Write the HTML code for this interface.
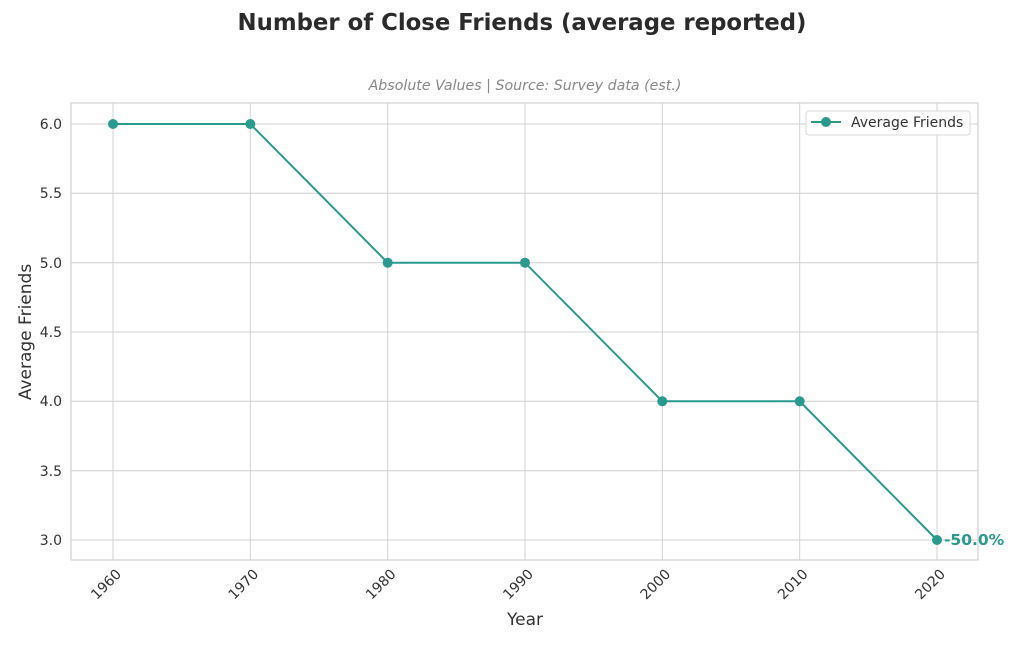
<!DOCTYPE html>
<html><head><meta charset="utf-8"><style>html,body{margin:0;padding:0;background:#fff}svg{display:block}</style></head>
<body>
<svg width="1024" height="666" xmlns="http://www.w3.org/2000/svg" font-family="DejaVu Sans, Liberation Sans, sans-serif">
<rect width="1024" height="666" fill="#fff"/>
<text x="522" y="30" text-anchor="middle" font-size="22.8" font-weight="bold" fill="#2b2b2b">Number of Close Friends (average reported)</text>
<text x="525" y="90" text-anchor="middle" font-size="14.2" font-style="italic" fill="#888">Absolute Values | Source: Survey data (est.)</text>
<g stroke="#d0d0d0" stroke-width="1">
<line x1="113" y1="103" x2="113" y2="560"/><line x1="250.3" y1="103" x2="250.3" y2="560"/><line x1="387.7" y1="103" x2="387.7" y2="560"/><line x1="525" y1="103" x2="525" y2="560"/><line x1="662.3" y1="103" x2="662.3" y2="560"/><line x1="799.7" y1="103" x2="799.7" y2="560"/><line x1="937" y1="103" x2="937" y2="560"/>
<line x1="71" y1="124" x2="978" y2="124"/><line x1="71" y1="193.3" x2="978" y2="193.3"/><line x1="71" y1="262.7" x2="978" y2="262.7"/><line x1="71" y1="332" x2="978" y2="332"/><line x1="71" y1="401.3" x2="978" y2="401.3"/><line x1="71" y1="470.7" x2="978" y2="470.7"/><line x1="71" y1="540" x2="978" y2="540"/>
</g>
<rect x="71" y="103" width="907" height="457" fill="none" stroke="#d0d0d0" stroke-width="1.2"/>
<g font-size="14" fill="#333" text-anchor="end">
<text x="62" y="129">6.0</text><text x="62" y="198">5.5</text><text x="62" y="268">5.0</text><text x="62" y="337">4.5</text><text x="62" y="406">4.0</text><text x="62" y="476">3.5</text><text x="62" y="545">3.0</text>
</g>
<g font-size="14" fill="#333" text-anchor="end">
<text transform="translate(122,575) rotate(-45)">1960</text>
<text transform="translate(259.3,575) rotate(-45)">1970</text>
<text transform="translate(396.7,575) rotate(-45)">1980</text>
<text transform="translate(534,575) rotate(-45)">1990</text>
<text transform="translate(671.3,575) rotate(-45)">2000</text>
<text transform="translate(808.7,575) rotate(-45)">2010</text>
<text transform="translate(946,575) rotate(-45)">2020</text>
</g>
<text x="525" y="625" text-anchor="middle" font-size="17" fill="#333">Year</text>
<text transform="translate(31,332) rotate(-90)" text-anchor="middle" font-size="17" fill="#333">Average Friends</text>
<polyline points="113,124 250.3,124 387.7,262.7 525,262.7 662.3,401.3 799.7,401.3 937,540" fill="none" stroke="#2a9a8e" stroke-width="2"/>
<g fill="#2a9a8e">
<circle cx="113" cy="124" r="5"/><circle cx="250.3" cy="124" r="5"/><circle cx="387.7" cy="262.7" r="5"/><circle cx="525" cy="262.7" r="5"/><circle cx="662.3" cy="401.3" r="5"/><circle cx="799.7" cy="401.3" r="5"/><circle cx="937" cy="540" r="5"/>
</g>
<text x="944" y="545" font-size="15.5" font-weight="bold" fill="#2a9a8e">-50.0%</text>
<rect x="806" y="111" width="164" height="24" rx="3" fill="#fff" fill-opacity="0.85" stroke="#d8d8d8"/>
<line x1="811" y1="122" x2="841" y2="122" stroke="#2a9a8e" stroke-width="2"/>
<circle cx="826" cy="122" r="5" fill="#2a9a8e"/>
<text x="851" y="127" font-size="14" fill="#333">Average Friends</text>
</svg>
</body></html>
